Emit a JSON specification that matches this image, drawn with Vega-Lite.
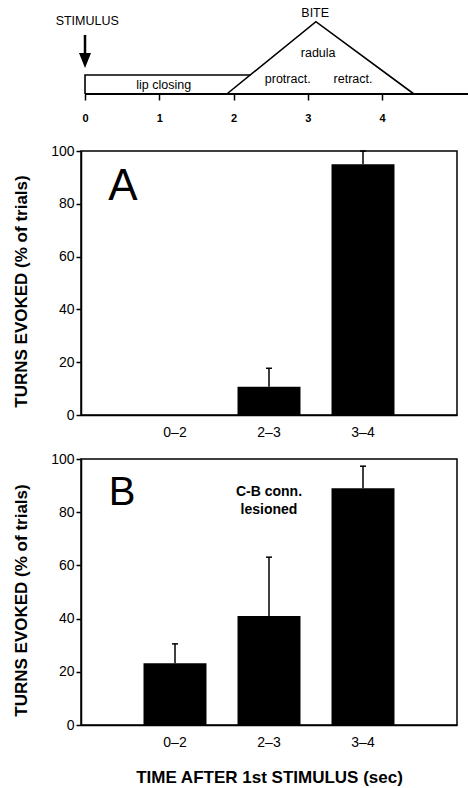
{
  "$schema": "https://vega.github.io/schema/vega-lite/v6.json",
  "padding": {"left": 11, "top": 0, "right": 0, "bottom": 0},
  "spacing": 57,
  "bounds": "flush",
  "config": {
    "font": "Liberation Sans",
    "axis": {"domainColor": "black", "tickColor": "black", "labelColor": "black", "titleColor": "black", "domainWidth": 1.5, "tickWidth": 1.5, "grid": false},
    "text": {"color": "black"}
  },
  "datasets": {
    "outline": [
      {"shape": "lip", "i": 0, "t": 0, "h": 0},
      {"shape": "lip", "i": 1, "t": 0, "h": 0.202},
      {"shape": "lip", "i": 2, "t": 2.23, "h": 0.202},
      {"shape": "bite", "i": 0, "t": 1.91, "h": 0},
      {"shape": "bite", "i": 1, "t": 3.11, "h": 0.769},
      {"shape": "bite", "i": 2, "t": 4.43, "h": 0}
    ],
    "baseline": [{"start": 0, "end": 5.3, "h": 0}],
    "arrow": [{"t": 0, "top": 0.628, "bottom": 0.4, "tip": 0.356}],
    "labels": [
      {"t": 0.03, "h": 0.777, "label": "STIMULUS"},
      {"t": 3.1, "h": 0.865, "label": "BITE"},
      {"t": 3.14, "h": 0.436, "label": "radula"},
      {"t": 2.73, "h": 0.16, "label": "protract."},
      {"t": 3.61, "h": 0.16, "label": "retract."},
      {"t": 1.06, "h": 0.096, "label": "lip  closing"}
    ],
    "panelA": [
      {"interval": "0–2", "value": 0, "err": null},
      {"interval": "2–3", "value": 10.7, "err": 17.7},
      {"interval": "3–4", "value": 95, "err": 100}
    ],
    "panelB": [
      {"interval": "0–2", "value": 23.2, "err": 30.5},
      {"interval": "2–3", "value": 41, "err": 63.1},
      {"interval": "3–4", "value": 89, "err": 97.3}
    ],
    "letterA": [{"interval": "0–2", "value": 81.4, "letter": "A"}],
    "letterB": [{"interval": "0–2", "value": 82.7, "letter": "B"}],
    "noteB": [{"interval": "2–3", "value": 87.6, "note": "C-B conn.\nlesioned"}]
  },
  "vconcat": [
    {
      "width": 376,
      "height": 94,
      "view": {"stroke": null},
      "layer": [
        {
          "data": {"name": "outline"},
          "mark": {"type": "line", "color": "black", "strokeWidth": 1.6, "clip": false},
          "encoding": {
            "x": {"field": "t", "type": "quantitative", "scale": {"domain": [-0.054, 5.01], "nice": false, "zero": false},
                  "axis": {"values": [0, 1, 2, 3, 4], "format": "d", "title": null, "domain": false, "tickSize": 6, "labelFontWeight": "bold", "labelFontSize": 11, "labelPadding": 12, "labelFlush": false}},
            "y": {"field": "h", "type": "quantitative", "scale": {"domain": [0, 1], "nice": false}, "axis": null},
            "detail": {"field": "shape"},
            "order": {"field": "i"}
          }
        },
        {
          "data": {"name": "baseline"},
          "mark": {"type": "rule", "strokeWidth": 2.2, "color": "black"},
          "encoding": {
            "x": {"field": "start", "type": "quantitative"},
            "x2": {"field": "end"},
            "y": {"field": "h", "type": "quantitative"}
          }
        },
        {
          "data": {"name": "arrow"},
          "mark": {"type": "rule", "strokeWidth": 2.5, "color": "black"},
          "encoding": {
            "x": {"field": "t", "type": "quantitative"},
            "y": {"field": "top", "type": "quantitative"},
            "y2": {"field": "bottom"}
          }
        },
        {
          "data": {"name": "arrow"},
          "mark": {"type": "point", "shape": "M-0.8,-1L0.8,-1L0,1Z", "size": 225, "filled": true, "color": "black", "opacity": 1},
          "encoding": {
            "x": {"field": "t", "type": "quantitative"},
            "y": {"field": "tip", "type": "quantitative"}
          }
        },
        {
          "data": {"name": "labels"},
          "mark": {"type": "text", "fontSize": 12.5, "baseline": "middle", "align": "center"},
          "encoding": {
            "x": {"field": "t", "type": "quantitative"},
            "y": {"field": "h", "type": "quantitative"},
            "text": {"field": "label"}
          }
        }
      ]
    },
    {
      "spacing": 44,
      "bounds": "flush",
      "vconcat": [
        {
          "width": 376,
          "height": 264,
          "view": {"stroke": "black", "strokeWidth": 1.5},
          "encoding": {
            "x": {"field": "interval", "type": "nominal", "sort": null, "scale": {"paddingInner": 0.33, "paddingOuter": 0.665},
                  "axis": {"title": null, "ticks": false, "labelAngle": 0, "labelFontSize": 14, "labelPadding": 10}}
          },
          "layer": [
            {
              "data": {"name": "panelA"},
              "mark": {"type": "bar", "color": "black"},
              "encoding": {
                "y": {"field": "value", "type": "quantitative", "scale": {"domain": [0, 100], "nice": false},
                      "axis": {"title": "TURNS EVOKED (% of trials)", "titleFontSize": 17, "titleFontWeight": "bold", "titlePadding": 20, "titleY": 140,
                               "values": [0, 10, 20, 30, 40, 50, 60, 70, 80, 90, 100],
                               "labelExpr": "datum.value % 20 === 0 ? datum.label : ''",
                               "tickSize": {"condition": {"test": "datum.value % 20 === 0", "value": 5}, "value": 3},
                               "labelFontSize": 14, "labelPadding": 2}}
              }
            },
            {
              "data": {"name": "panelA"},
              "transform": [{"filter": "isValid(datum.err)"}],
              "mark": {"type": "rule", "strokeWidth": 1.5, "color": "black"},
              "encoding": {
                "y": {"field": "value", "type": "quantitative"},
                "y2": {"field": "err"}
              }
            },
            {
              "data": {"name": "panelA"},
              "transform": [{"filter": "isValid(datum.err)"}],
              "mark": {"type": "tick", "color": "black", "size": 6, "thickness": 1.5, "opacity": 1},
              "encoding": {
                "y": {"field": "err", "type": "quantitative"}
              }
            },
            {
              "data": {"name": "letterA"},
              "mark": {"type": "text", "fontSize": 44, "baseline": "alphabetic", "align": "center", "dx": -52},
              "encoding": {
                "y": {"field": "value", "type": "quantitative"},
                "text": {"field": "letter"}
              }
            }
          ]
        },
        {
          "width": 376,
          "height": 266,
          "view": {"stroke": "black", "strokeWidth": 1.5},
          "encoding": {
            "x": {"field": "interval", "type": "nominal", "sort": null, "scale": {"paddingInner": 0.33, "paddingOuter": 0.665},
                  "axis": {"title": "TIME AFTER 1st STIMULUS (sec)", "titleFontSize": 17, "titleFontWeight": "bold", "titlePadding": 20, "ticks": false, "labelAngle": 0, "labelFontSize": 14, "labelPadding": 10}}
          },
          "layer": [
            {
              "data": {"name": "panelB"},
              "mark": {"type": "bar", "color": "black"},
              "encoding": {
                "y": {"field": "value", "type": "quantitative", "scale": {"domain": [0, 100], "nice": false},
                      "axis": {"title": "TURNS EVOKED (% of trials)", "titleFontSize": 17, "titleFontWeight": "bold", "titlePadding": 20, "titleY": 141,
                               "values": [0, 10, 20, 30, 40, 50, 60, 70, 80, 90, 100],
                               "labelExpr": "datum.value % 20 === 0 ? datum.label : ''",
                               "tickSize": {"condition": {"test": "datum.value % 20 === 0", "value": 5}, "value": 3},
                               "labelFontSize": 14, "labelPadding": 2}}
              }
            },
            {
              "data": {"name": "panelB"},
              "mark": {"type": "rule", "strokeWidth": 1.5, "color": "black"},
              "encoding": {
                "y": {"field": "value", "type": "quantitative"},
                "y2": {"field": "err"}
              }
            },
            {
              "data": {"name": "panelB"},
              "mark": {"type": "tick", "color": "black", "size": 6, "thickness": 1.5, "opacity": 1},
              "encoding": {
                "y": {"field": "err", "type": "quantitative"}
              }
            },
            {
              "data": {"name": "letterB"},
              "mark": {"type": "text", "fontSize": 40, "baseline": "alphabetic", "align": "center", "dx": -53},
              "encoding": {
                "y": {"field": "value", "type": "quantitative"},
                "text": {"field": "letter"}
              }
            },
            {
              "data": {"name": "noteB"},
              "mark": {"type": "text", "fontSize": 14, "fontWeight": "bold", "lineBreak": "\n", "lineHeight": 18, "baseline": "middle", "align": "center"},
              "encoding": {
                "y": {"field": "value", "type": "quantitative"},
                "text": {"field": "note"}
              }
            }
          ]
        }
      ]
    }
  ]
}
